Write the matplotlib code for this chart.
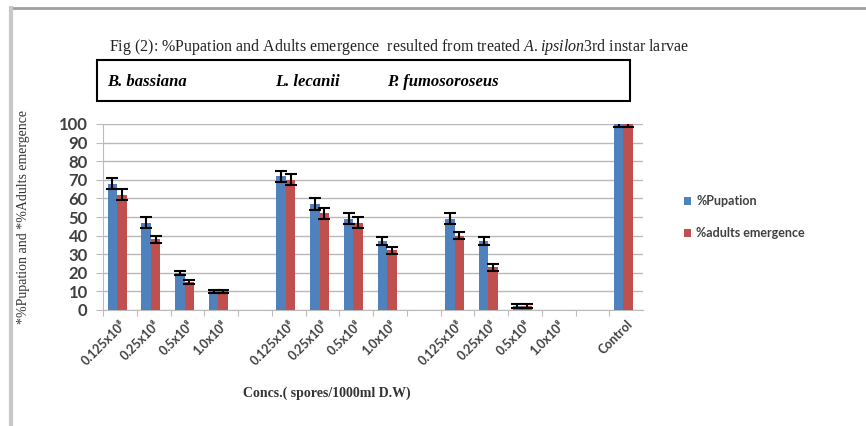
import matplotlib
matplotlib.use("Agg")
import matplotlib.pyplot as plt
import matplotlib.patches as patches
import numpy as np

plt.rcParams["mathtext.fontset"] = "custom"
plt.rcParams["mathtext.it"] = "Liberation Serif:italic"
plt.rcParams["mathtext.rm"] = "Liberation Serif"

# categories (blank slots separate the three fungi, as in the original sheet)
categories = ["0.125x10⁸", "0.25x10⁸", "0.5x10⁸", "1.0x10⁸", "",
              "0.125x10⁸", "0.25x10⁸", "0.5x10⁸", "1.0x10⁸", "",
              "0.125x10⁸", "0.25x10⁸", "0.5x10⁸", "1.0x10⁸", "",
              "Control"]
pupation = [68, 47, 20, 10, np.nan, 72, 57, 49, 37, np.nan, 49, 37, 2, 0, np.nan, 100]
pupation_err = [3, 3, 1, 1, np.nan, 3, 3, 3, 2, np.nan, 3, 2, 1, np.nan, np.nan, 1.5]
adults = [62, 38, 15, 10, np.nan, 70, 52, 47, 32, np.nan, 40, 23, 2, 0, np.nan, 100]
adults_err = [3, 2, 1, 1, np.nan, 3, 3, 3, 2, np.nan, 2, 2, 1, np.nan, np.nan, 1.5]
fungi = ["B. bassiana", "L. lecanii", "P. fumosoroseus"]
yticks = list(range(0, 101, 10))

blue = "#4F81BD"
red = "#C0504D"

fig = plt.figure(figsize=(8.66, 4.26), dpi=100)
W, H = 866, 426

ax = fig.add_axes([103 / W, 1 - 310 / H, 540 / W, 186 / H])

x = np.arange(len(categories))
bw = 0.28
ax.bar(x - bw / 2 + 0.5 - 0.08, pupation, bw, color=blue, label="%Pupation", zorder=3)
ax.bar(x + bw / 2 + 0.5 - 0.08, adults, bw, color=red, label="%adults emergence", zorder=3)
ax.errorbar(x - bw / 2 + 0.5 - 0.08, pupation, yerr=pupation_err, fmt="none",
            ecolor="black", elinewidth=1.5, capsize=4, capthick=1.5, zorder=4)
ax.errorbar(x + bw / 2 + 0.5 - 0.08, adults, yerr=adults_err, fmt="none",
            ecolor="black", elinewidth=1.5, capsize=4, capthick=1.5, zorder=4)

ax.set_xlim(0, len(categories))
ax.set_ylim(0, 100)
ax.set_yticks(yticks)
ax.set_yticklabels([str(v) for v in yticks], fontsize=12, fontweight="bold",
                   family="Lato", color="#404040")
ax.set_xticks(x, minor=False)
ax.set_xticklabels([])
ax.set_xticks(x + 0.5, minor=True)
ax.set_xticklabels(categories, minor=True, rotation=45, ha="right",
                   rotation_mode="anchor", fontsize=9, fontweight="bold",
                   family=["Lato", "DejaVu Sans"], color="#404040")
ax.tick_params(axis="x", which="minor", length=0, pad=6)
ax.tick_params(axis="x", which="major", length=4, color="#bbbbbb")
ax.tick_params(axis="y", length=5, color="#bbbbbb", pad=6)
ax.grid(axis="y", color="#b8b8b8", linewidth=1, zorder=0)
for s in ["top", "right"]:
    ax.spines[s].set_visible(False)
for s in ["left", "bottom"]:
    ax.spines[s].set_color("#bbbbbb")

ax.set_ylabel("*%Pupation and *%Adults emergence", family="Liberation Serif",
              fontsize=10, color="#333333")
ax.yaxis.set_label_coords(-0.136, 0.5)

ax.legend(loc="center left", bbox_to_anchor=(1.055, 0.5), frameon=False,
          prop={"family": "Lato", "weight": "bold", "size": 9},
          labelcolor="#404040", handlelength=0.6, handleheight=0.6,
          handletextpad=0.4, labelspacing=1.6)

# title
fig.text(109 / W, 1 - 47 / H,
         "Fig (2): %Pupation and Adults emergence  resulted from treated $\\it{A. ipsilon}$3rd instar larvae",
         family="Liberation Serif", fontsize=11.5, color="#222222", va="center")

# box with fungus names
fig.patches.append(patches.Rectangle((97 / W, 1 - 101 / H), 533 / W, 41 / H,
                                     transform=fig.transFigure, fill=False,
                                     edgecolor="black", linewidth=1.5))
for name, px in zip(fungi, [107, 275, 387]):
    fig.text(px / W, 1 - 82 / H, name, family="Liberation Serif", style="italic",
             fontweight="bold", fontsize=12, va="center")

fig.text(327 / W, 1 - 393 / H, "Concs.( spores/1000ml D.W)", family="Liberation Serif",
         fontweight="bold", fontsize=10, color="#333333", ha="center", va="center")

# screenshot frame
fig.add_artist(plt.Line2D([10 / W, 1], [1 - 8 / H] * 2, transform=fig.transFigure,
                          color="#a0a0a0", linewidth=2))
fig.add_artist(plt.Line2D([11 / W] * 2, [0, 1 - 8 / H], transform=fig.transFigure,
                          color="#c8c8c8", linewidth=3))

fig.savefig("out.png", dpi=100)
